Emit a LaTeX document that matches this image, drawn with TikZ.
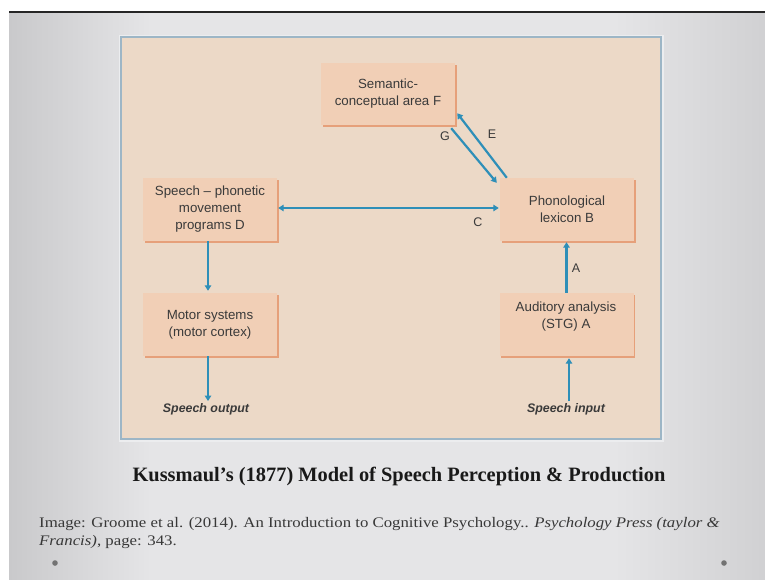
\documentclass[tikz,border=0pt]{standalone}
\usepackage{fontspec}
\setmainfont{Liberation Serif}
\setsansfont{Liberation Sans}
\newfontfamily\citefont[FakeStretch=1.15]{Liberation Serif}
\usetikzlibrary{arrows.meta,shadows,calc}

\definecolor{slidegrayL}{HTML}{C9C9CB}
\definecolor{slidegrayM}{HTML}{E5E5E7}
\definecolor{slidegrayR}{HTML}{D0D0D2}
\definecolor{panelglow}{HTML}{ECEDEF}
\definecolor{panelfill}{HTML}{ECD9C7}
\definecolor{panelline}{HTML}{9DB6C6}
\definecolor{boxfill}{HTML}{F1CFB6}
\definecolor{boxshade}{HTML}{E6A07A}
\definecolor{arrowblue}{HTML}{2E8FB8}
\definecolor{boxtext}{HTML}{3A3A3A}

\tikzset{
  stagebox/.style={rectangle, fill=boxfill, minimum width=134pt, minimum height=63pt,
    align=center, inner sep=0pt, text=boxtext,
    font=\sffamily\fontsize{13.3}{17}\selectfont,
    drop shadow={shadow xshift=1.8pt, shadow yshift=-1.8pt, fill=boxshade, opacity=1}},
  boxlabel/.style={align=center, inner sep=0pt, text=boxtext,
    font=\sffamily\fontsize{13.3}{17}\selectfont},
  tip/.tip={Triangle[width=6.5pt,length=5.5pt]},
  flow/.style={draw=arrowblue, line width=2.2pt, -tip},
  tag/.style={text=boxtext, font=\sffamily\fontsize{12.5}{14}\selectfont, inner sep=0pt},
  io/.style={text=boxtext, font=\sffamily\bfseries\itshape\fontsize{12.4}{14}\selectfont, inner sep=0pt}
}

\begin{document}
\begin{tikzpicture}[x=1pt,y=-1pt]
\useasboundingbox (0,0) rectangle (765,579);
% slide background: light centre, darker side edges
\fill[white] (0,0) rectangle (765,579);
\fill[slidegrayM] (148,13) rectangle (617,590);
\shade[left color=slidegrayL, right color=slidegrayM] (9,13) rectangle (151,590);
\shade[left color=slidegrayM, right color=slidegrayR] (614,13) rectangle (770,590);
\fill[black!85] (9,11) rectangle (770,13.2);

% diagram panel
\draw[panelglow, line width=5pt] (121,37) rectangle (661,439);
\draw[panelline, line width=1.8pt, fill=panelfill] (121,37) rectangle (661,439);

% stages
\node[stagebox, minimum height=62pt] (sem) at (388,94) {Semantic-\\conceptual area F};
\node[stagebox] (spm) at (210,209.5) {Speech -- phonetic\\movement\\programs D};
\node[stagebox] (pho) at (567,209.5) {Phonological\\lexicon B};
\node[stagebox] (mot) at (210,324.5) {Motor systems\\(motor cortex)};
\node[stagebox] (aud) at (566.5,324.5) {};
\node[boxlabel] (audtext) at (566,316.5) {Auditory analysis\\(STG) A};

\node[io] (out) at (206,409) {Speech output};
\node[io] (inp) at (566,409) {Speech input};

% connections
\draw[flow, tip-tip]
  ($(spm.east)+(1,-1.5)$) -- ($(pho.west)+(-1,-1.5)$);
\draw[flow] ($(sem.south east)+(-4,3)$) -- ($(pho.north west)+(-3,5)$);
\draw[flow] ($(pho.north west)+(7,0)$) -- ($(sem.south east)+(2,-12)$);
\draw[flow, shorten >=2pt] ($(spm.south)+(-2,0)$) -- ($(mot.north)+(-2,0)$);
\draw[flow] ($(mot.south)+(-2,0)$) -- ($(out.north)+(2,-2)$);
\draw[flow, shorten >=1pt] (aud.north) -- ($(pho.south)+(-0.5,0)$);
\draw[flow, shorten >=2pt] ($(inp.north)+(3,-2)$) -- ($(aud.south)+(2.5,0)$);

\node[tag] (lc) at (478,222) {C};
\node[tag] (lg) at (445,136) {G};
\node[tag] (le) at (492,134) {E};
\node[tag] (la) at (576,268) {A};

% caption and source
\node[text=black!90, font=\bfseries\fontsize{20.4}{24}\selectfont, inner sep=0pt] (title) at (399,476)
  {Kussmaul’s (1877) Model of Speech Perception \& Production};
\node[anchor=north west, align=left, text=black!78, font=\citefont\fontsize{14.6}{18}\selectfont, inner sep=0pt] (src) at (39,517)
  {Image: Groome et al. (2014). An Introduction to Cognitive Psychology.. \textit{Psychology Press (taylor \&}\\
   \textit{Francis)}, page: 343.};

% slide bullets
\fill[black!55] (55,563) circle (2.8pt);
\fill[black!55] (724,563) circle (2.8pt);
\end{tikzpicture}
\end{document}
